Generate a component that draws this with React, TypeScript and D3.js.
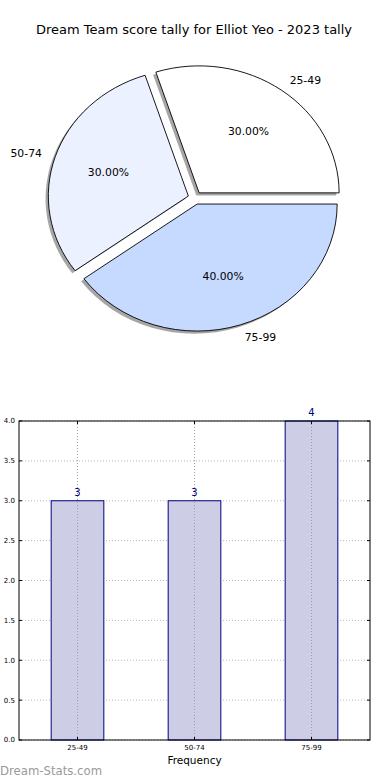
import { useEffect, useRef } from "react";
import * as d3 from "d3";

const categories = ["25-49", "50-74", "75-99"];
const counts = [3, 3, 4];
const sliceColors = ["#ffffff", "#ebf1ff", "#c6d9ff"];
const yTicks = [0, 0.5, 1, 1.5, 2, 2.5, 3, 3.5, 4];
const title = "Dream Team score tally for Elliot Yeo - 2023 tally";

export default function App() {
  const svgRef = useRef<SVGSVGElement>(null);

  useEffect(() => {
    if (!svgRef.current) return;
    const svg = d3.select(svgRef.current);
    svg.selectAll("*").remove();
    const font = "DejaVu Sans, sans-serif";

    svg
      .append("rect")
      .attr("width", 390)
      .attr("height", 780)
      .attr("fill", "white");

    // Title
    svg
      .append("text")
      .attr("x", 194)
      .attr("y", 34)
      .attr("text-anchor", "middle")
      .attr("font-family", font)
      .attr("font-size", "13px")
      .text(title);

    // Pie (elliptical, like matplotlib without equal aspect)
    const cx = 195;
    const cy = 198;
    const rx = 140;
    const ry = 127;
    const explode = 0.05;
    const total = d3.sum(counts);

    const pie = d3
      .pie<number>()
      .sort(null)
      .startAngle(Math.PI / 2)
      .endAngle(Math.PI / 2 - 2 * Math.PI);
    const arcs = pie(counts);
    const arc = d3.arc<d3.PieArcDatum<number>>().innerRadius(0).outerRadius(1);

    const pieG = svg.append("g");

    arcs.forEach((a, i) => {
      const mid = (a.startAngle + a.endAngle) / 2;
      const ux = Math.sin(mid);
      const uy = -Math.cos(mid);
      const ox = cx + explode * rx * ux;
      const oy = cy + explode * ry * uy;
      const path = arc(a) as string;

      // shadow
      pieG
        .append("path")
        .attr("d", path)
        .attr("transform", `translate(${ox - 2.8},${oy + 2.6}) scale(${rx},${ry})`)
        .attr("fill", "#000")
        .attr("fill-opacity", 0.35);

      pieG
        .append("path")
        .attr("d", path)
        .attr("transform", `translate(${ox},${oy}) scale(${rx},${ry})`)
        .attr("fill", sliceColors[i])
        .attr("stroke", "#000")
        .attr("stroke-width", 0.9)
        .attr("vector-effect", "non-scaling-stroke");

      // category label
      const lx = ox + 1.1 * rx * ux;
      const ly = oy + 1.1 * ry * uy;
      pieG
        .append("text")
        .attr("x", lx)
        .attr("y", ly)
        .attr("dy", "0.35em")
        .attr("text-anchor", ux > 0 ? "start" : "end")
        .attr("font-family", font)
        .attr("font-size", "10.8px")
        .text(categories[i]);

      // percentage
      pieG
        .append("text")
        .attr("x", ox + 0.6 * rx * ux)
        .attr("y", oy + 0.6 * ry * uy)
        .attr("dy", "0.35em")
        .attr("text-anchor", "middle")
        .attr("font-family", font)
        .attr("font-size", "10.8px")
        .text(((counts[i] / total) * 100).toFixed(2) + "%");
    });

    // Bar chart
    const left = 19;
    const right = 370;
    const top = 421;
    const bottom = 740;

    const x = d3
      .scaleBand()
      .domain(categories)
      .range([left, right])
      .paddingInner(0.55)
      .paddingOuter(0.275);
    const y = d3.scaleLinear().domain([0, 4]).range([bottom, top]);

    const barG = svg.append("g");
    const gridColor = "#b8b8b8";

    // horizontal grid
    yTicks.forEach((t) => {
      barG
        .append("line")
        .attr("x1", left)
        .attr("x2", right)
        .attr("y1", y(t))
        .attr("y2", y(t))
        .attr("stroke", gridColor)
        .attr("stroke-width", 1)
        .attr("stroke-dasharray", "1,2");
    });

    // bars
    categories.forEach((c, i) => {
      barG
        .append("rect")
        .attr("x", x(c) as number)
        .attr("y", y(counts[i]))
        .attr("width", x.bandwidth())
        .attr("height", bottom - y(counts[i]))
        .attr("fill", "#cdcde6")
        .attr("stroke", "#000080")
        .attr("stroke-width", 1);
      barG
        .append("text")
        .attr("x", (x(c) as number) + x.bandwidth() / 2)
        .attr("y", y(counts[i]) - 5)
        .attr("text-anchor", "middle")
        .attr("font-family", font)
        .attr("font-size", "10px")
        .attr("fill", "#000080")
        .text(counts[i]);
    });

    // vertical grid over bars
    categories.forEach((c) => {
      const xc = (x(c) as number) + x.bandwidth() / 2;
      barG
        .append("line")
        .attr("x1", xc)
        .attr("x2", xc)
        .attr("y1", top)
        .attr("y2", bottom)
        .attr("stroke", "#a0a0a0")
        .attr("stroke-width", 1)
        .attr("stroke-dasharray", "1,2");
    });

    // frame
    barG
      .append("rect")
      .attr("x", left)
      .attr("y", top)
      .attr("width", right - left)
      .attr("height", bottom - top)
      .attr("fill", "none")
      .attr("stroke", "#000")
      .attr("stroke-width", 1);

    // ticks
    yTicks.forEach((t) => {
      barG
        .append("line")
        .attr("x1", left)
        .attr("x2", left + 3)
        .attr("y1", y(t))
        .attr("y2", y(t))
        .attr("stroke", "#000");
      barG
        .append("line")
        .attr("x1", right - 3)
        .attr("x2", right)
        .attr("y1", y(t))
        .attr("y2", y(t))
        .attr("stroke", "#000");
      barG
        .append("text")
        .attr("x", left - 4)
        .attr("y", y(t))
        .attr("dy", "0.35em")
        .attr("text-anchor", "end")
        .attr("font-family", font)
        .attr("font-size", "7px")
        .text(t.toFixed(1));
    });
    categories.forEach((c) => {
      const xc = (x(c) as number) + x.bandwidth() / 2;
      barG
        .append("line")
        .attr("x1", xc)
        .attr("x2", xc)
        .attr("y1", bottom)
        .attr("y2", bottom - 3)
        .attr("stroke", "#000");
      barG
        .append("line")
        .attr("x1", xc)
        .attr("x2", xc)
        .attr("y1", top)
        .attr("y2", top + 3)
        .attr("stroke", "#000");
      barG
        .append("text")
        .attr("x", xc)
        .attr("y", bottom + 10)
        .attr("text-anchor", "middle")
        .attr("font-family", font)
        .attr("font-size", "7px")
        .text(c);
    });

    barG
      .append("text")
      .attr("x", (left + right) / 2)
      .attr("y", 764)
      .attr("text-anchor", "middle")
      .attr("font-family", font)
      .attr("font-size", "10.5px")
      .text("Frequency");

    // watermark
    svg
      .append("text")
      .attr("x", 0)
      .attr("y", 775)
      .attr("font-family", font)
      .attr("font-size", "11.7px")
      .attr("fill", "#9a9a9a")
      .text("Dream-Stats.com");
  }, []);

  return (
    <svg
      ref={svgRef}
      width={390}
      height={780}
      style={{ position: "absolute", left: 0, top: 0 }}
    ></svg>
  );
}
